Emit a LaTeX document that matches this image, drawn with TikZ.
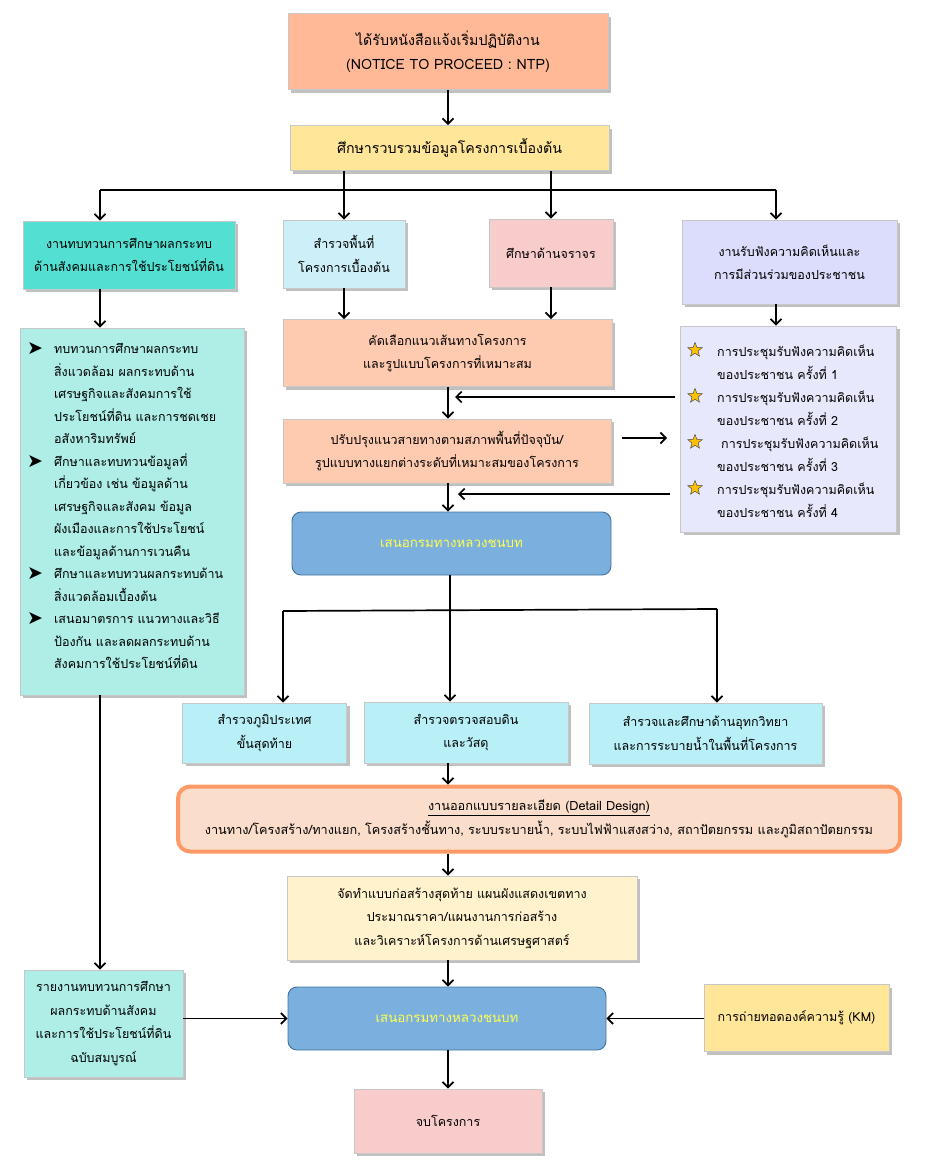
\documentclass[tikz,border=0pt]{standalone}
\usepackage{fontspec}
\setmainfont{Loma}[Script=Thai]
\newfontfamily\symfont{DejaVu Sans}
\usetikzlibrary{arrows.meta,shadows,shapes.geometric}
\definecolor{cNtp}{HTML}{FFB997}
\definecolor{cYel}{HTML}{FFE699}
\definecolor{cTurq}{HTML}{53E0D2}
\definecolor{cCyan}{HTML}{CCEFF8}
\definecolor{cPink}{HTML}{F9CCCC}
\definecolor{cLav}{HTML}{DCDCFC}
\definecolor{cAqua}{HTML}{AEEEE6}
\definecolor{cPeach}{HTML}{FFCBB0}
\definecolor{cLav2}{HTML}{E8E8FC}
\definecolor{cBlue}{HTML}{7BAFDE}
\definecolor{cBlueB}{HTML}{41719C}
\definecolor{cSky}{HTML}{B9EFF7}
\definecolor{cDet}{HTML}{FADDCB}
\definecolor{cDetB}{HTML}{FF9A66}
\definecolor{cCream}{HTML}{FFF2CC}
\definecolor{cTxtY}{HTML}{FFFF4D}
\definecolor{cStar}{HTML}{FFC000}
\tikzset{
  boxstyle/.style={draw=black!22, line width=0.8pt, align=center, inner sep=2pt,
    drop shadow={shadow xshift=3pt, shadow yshift=-3pt, fill=black!55, opacity=0.45},
    font=\fontsize{12.5}{23.5}\selectfont},
  bigtext/.style={font=\fontsize{14.2}{24.5}\selectfont},
  dorstyle/.style={draw=cBlueB, line width=0.9pt, fill=cBlue, rounded corners=9pt,
    text=cTxtY, align=center, font=\fontsize{13.3}{23.5}\selectfont},
  arr/.style={line width=1.7pt, -{Straight Barb[length=5.5pt,width=11pt]}},
  ln/.style={line width=1.7pt},
  starsym/.style={star, star points=5, star point ratio=2.3, fill=cStar, draw=black!70,
    line width=0.5pt, minimum size=15pt, inner sep=0pt}
}
\newcommand{\blt}{\raisebox{-1pt}{\symfont\fontsize{19}{19}\selectfont ➤}}
\begin{document}
\begin{tikzpicture}[x=1pt,y=1pt]
\useasboundingbox (0,0) rectangle (945,-1175);
% boxes
\node[boxstyle, bigtext, fill=cNtp, minimum width=320, minimum height=76] (ntp) at (448,-51.5)
  {ได้รับหนังสือแจ้งเริ่มปฏิบัติงาน\\(NOTICE TO PROCEED : NTP)};
\node[boxstyle, bigtext, fill=cYel, minimum width=319, minimum height=45] (collect) at (449.5,-148)
  {ศึกษารวบรวมข้อมูลโครงการเบื้องต้น};
\node[boxstyle, fill=cTurq, minimum width=212, minimum height=68] (review) at (129,-255)
  {งานทบทวนการศึกษาผลกระทบ\\ด้านสังคมและการใช้ประโยชน์ที่ดิน};
\node[boxstyle, fill=cCyan, minimum width=122, minimum height=68] (survey) at (344,-254)
  {สำรวจพื้นที่\\โครงการเบื้องต้น};
\node[boxstyle, fill=cPink, minimum width=124, minimum height=68] (traffic) at (551,-253)
  {ศึกษาด้านจราจร};
\node[boxstyle, fill=cLav, minimum width=215, minimum height=84] (hearing) at (789.5,-262)
  {งานรับฟังความคิดเห็นและ\\การมีส่วนร่วมของประชาชน};
\node[boxstyle, fill=cAqua, minimum width=224, minimum height=367] (list) at (132,-511.5) {};
\node[anchor=north west, inner sep=0pt, font=\fontsize{12.5}{22.5}\selectfont] (listtxt) at (27,-338)
  {\begin{tabular}{@{}l@{\hspace{11pt}}l@{}}
  \blt & ทบทวนการศึกษาผลกระทบ\\
   & สิ่งแวดล้อม  ผลกระทบด้าน\\
   & เศรษฐกิจและสังคมการใช้\\
   & ประโยชน์ที่ดิน  และการชดเชย\\
   & อสังหาริมทรัพย์\\
  \blt & ศึกษาและทบทวนข้อมูลที่\\
   & เกี่ยวข้อง  เช่น ข้อมูลด้าน\\
   & เศรษฐกิจและสังคม   ข้อมูล\\
   & ผังเมืองและการใช้ประโยชน์\\
   & และข้อมูลด้านการเวนคืน\\
  \blt & ศึกษาและทบทวนผลกระทบด้าน\\
   & สิ่งแวดล้อมเบื้องต้น\\
  \blt & เสนอมาตรการ  แนวทางและวิธี\\
   & ป้องกัน และลดผลกระทบด้าน\\
   & สังคมการใช้ประโยชน์ที่ดิน
  \end{tabular}};
\node[boxstyle, fill=cPeach, minimum width=329, minimum height=67] (select) at (447.5,-353)
  {คัดเลือกแนวเส้นทางโครงการ\\และรูปแบบโครงการที่เหมาะสม};
\node[boxstyle, fill=cLav2, minimum width=216, minimum height=206] (stars) at (788.5,-429) {};
\node[anchor=north west, inner sep=0pt, font=\fontsize{12.5}{23}\selectfont] (startxt) at (717,-340)
  {\begin{tabular}{@{}l@{}}
  การประชุมรับฟังความคิดเห็น\\
  ของประชาชน ครั้งที่ 1\\
  การประชุมรับฟังความคิดเห็น\\
  ของประชาชน ครั้งที่ 2\\
  \hspace{4pt}การประชุมรับฟังความคิดเห็น\\
  ของประชาชน ครั้งที่ 3\\
  การประชุมรับฟังความคิดเห็น\\
  ของประชาชน ครั้งที่ 4
  \end{tabular}};
\node[starsym] (s1) at (695,-350) {};
\node[starsym] (s2) at (695,-396) {};
\node[starsym] (s3) at (695,-442) {};
\node[starsym] (s4) at (695,-488) {};
\node[boxstyle, fill=cPeach, minimum width=328, minimum height=64] (improve) at (447,-451)
  {ปรับปรุงแนวสายทางตามสภาพพื้นที่ปัจจุบัน/\\รูปแบบทางแยกต่างระดับที่เหมาะสมของโครงการ};
\node[dorstyle, minimum width=319, minimum height=63] (dor1) at (451.5,-543.5) {เสนอกรมทางหลวงชนบท};
\node[boxstyle, fill=cSky, minimum width=164, minimum height=60] (topo) at (264.5,-733)
  {สำรวจภูมิประเทศ\\ขั้นสุดท้าย};
\node[boxstyle, fill=cSky, minimum width=204, minimum height=61] (soil) at (466,-732.5)
  {สำรวจตรวจสอบดิน\\และวัสดุ};
\node[boxstyle, fill=cSky, minimum width=233, minimum height=61] (hydro) at (705.5,-733.5)
  {สำรวจและศึกษาด้านอุทกวิทยา\\และการระบายน้ำในพื้นที่โครงการ};
\node[draw=cDetB, line width=4pt, fill=cDet, rounded corners=12pt, minimum width=722, minimum height=65,
  align=center, font=\fontsize{12.7}{23.5}\selectfont] (detail) at (539,-819)
  {\underline{งานออกแบบรายละเอียด  (Detail Design)}\\งานทาง/โครงสร้าง/ทางแยก, โครงสร้างชั้นทาง, ระบบระบายน้ำ, ระบบไฟฟ้าแสงสว่าง, สถาปัตยกรรม และภูมิสถาปัตยกรรม};
\node[boxstyle, fill=cCream, minimum width=350, minimum height=84] (final) at (462,-918)
  {จัดทำแบบก่อสร้างสุดท้าย  แผนผังแสดงเขตทาง\\ประมาณราคา/แผนงานการก่อสร้าง\\และวิเคราะห์โครงการด้านเศรษฐศาสตร์};
\node[dorstyle, minimum width=318, minimum height=63] (dor2) at (447,-1018.5) {เสนอกรมทางหลวงชนบท};
\node[boxstyle, fill=cAqua, minimum width=159, minimum height=107] (report) at (103.5,-1023.5)
  {รายงานทบทวนการศึกษา\\ผลกระทบด้านสังคม\\และการใช้ประโยชน์ที่ดิน\\ฉบับสมบูรณ์};
\node[boxstyle, fill=cYel, minimum width=185, minimum height=67] (km) at (796.5,-1018)
  {การถ่ายทอดองค์ความรู้  (KM)};
\node[boxstyle, fill=cPink, minimum width=188, minimum height=64] (endb) at (448,-1121)
  {จบโครงการ};
% coordinates
\coordinate (busL) at (100,-190);
\coordinate (busR) at (776,-190);
\coordinate (fb1) at (455,-397);
\coordinate (fb1s) at (675,-397);
\coordinate (ra1) at (622,-438);
\coordinate (ra2) at (667,-438);
\coordinate (fb2) at (458,-494);
\coordinate (fb2s) at (670,-494);
\coordinate (b2L) at (283,-611);
\coordinate (b2M) at (450,-610);
\coordinate (b2R) at (717,-609);
\coordinate (ax) at (448,0);
% connectors
\draw[arr] (ntp.south) -- (ntp.south |- collect.north);
\draw[arr] (survey.north |- collect.south) -- (survey.north);
\draw[arr] (traffic.north |- collect.south) -- (traffic.north);
\draw[ln] (busL) -- (busR);
\draw[arr] (busL) -- (busL |- review.north);
\draw[arr] (busR) -- (busR |- hearing.north);
\draw[arr] (busL |- review.south) -- (busL |- list.north);
\draw[arr] (survey.south) -- (survey.south |- select.north);
\draw[arr] (traffic.south) -- (traffic.south |- select.north);
\draw[arr] (busR |- hearing.south) -- (busR |- stars.north);
\draw[arr] (ax |- select.south) -- (ax |- improve.north);
\draw[arr] (fb1s) -- (fb1);
\draw[arr] (ra1) -- (ra2);
\draw[arr] (fb2s) -- (fb2);
\draw[arr] (ax |- improve.south) -- (ax |- dor1.north);
\draw[ln] (b2M |- dor1.south) -- (b2M);
\draw[ln] (b2L) -- (b2R);
\draw[arr] (b2L) -- (b2L |- topo.north);
\draw[arr] (b2M) -- (b2M |- soil.north);
\draw[arr] (b2R) -- (b2R |- hydro.north);
\draw[arr] (ax |- soil.south) -- (ax |- detail.north);
\draw[arr] (ax |- detail.south) -- (ax |- final.north);
\draw[arr] (ax |- final.south) -- (ax |- dor2.north);
\draw[arr] (busL |- list.south) -- (busL |- report.north);
\draw[arr] (report.east |- dor2.west) -- (dor2.west);
\draw[arr] (km.west |- dor2.east) -- (dor2.east);
\draw[arr] (ax |- dor2.south) -- (ax |- endb.north);
\end{tikzpicture}
\end{document}
